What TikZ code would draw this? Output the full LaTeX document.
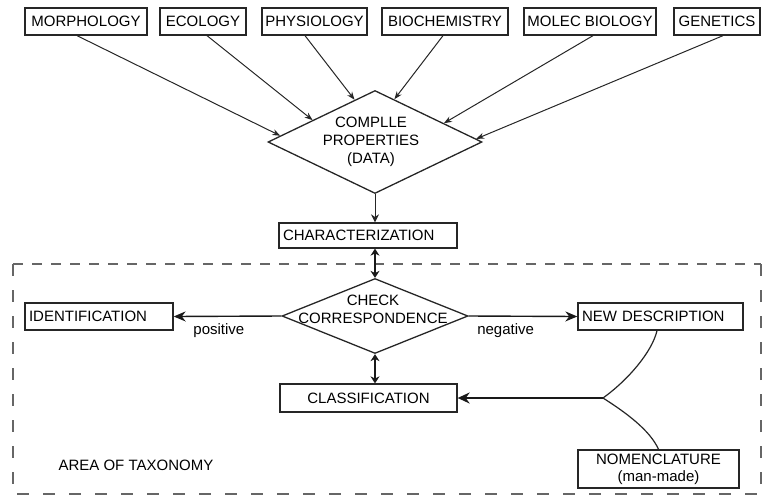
\documentclass[tikz,border=0pt]{standalone}
\usepackage{fontspec}
\setmainfont{Liberation Sans}
\usetikzlibrary{shapes.geometric,arrows.meta,calc}
\begin{document}
\begin{tikzpicture}[x=1pt,y=-1pt,
  txt/.style={font=\fontsize{15}{18}\selectfont},
  box/.style={txt, draw=black!85, line width=1.3pt, fill=white, inner xsep=0pt, inner ysep=0pt, minimum height=27pt},
  lbox/.style={box, inner xsep=4pt, align=left},
  diam/.style={diamond, draw=black!85, line width=1.3pt, inner sep=0pt},
  feed/.style={draw=black!85, line width=1pt, -{Stealth[length=8pt,width=6pt]}},
  dbl/.style={draw=black!90, line width=2pt, {Stealth[length=7pt,width=9pt]}-{Stealth[length=7pt,width=9pt]}},
  side/.style={draw=black!90, line width=1.4pt, -{Stealth[length=12pt,width=10pt]}},
  curve/.style={draw=black!85, line width=1.2pt},
  frame/.style={draw=black!60, line width=2pt}
]
\useasboundingbox (0,0) rectangle (770,498);

% dashed area of taxonomy
\draw[frame, dash pattern=on 10pt off 9pt] (13,264) -- (761,264);
\draw[frame, dash pattern=on 12pt off 14pt] (13,264) -- (13,494) -- (761,494) -- (761,264);

% top boxes
\node[box, minimum width=122pt] (morph) at (86,21.5) {MORPHOLOGY};
\node[box, minimum width=86pt]  (eco)   at (203,21.5) {ECOLOGY};
\node[box, minimum width=105pt] (phys)  at (314.5,21.5) {PHYSIOLOGY};
\node[box, minimum width=126pt] (bio)   at (445,21.5) {BIOCHEMISTRY};
\node[box, minimum width=132pt] (molec) at (590,21.5) {MOLEC BIOLOGY};
\node[box, minimum width=86pt]  (gen)   at (717,21.5) {GENETICS};

% compile diamond
\node[diam, minimum width=214pt, minimum height=103pt] (cp) at (375,142) {};
\node[txt, align=center] (cptext) at (371,142) {COMPLLE\\PROPERTIES\\(DATA)};

\draw[feed] ($(morph.south)+(-9,0)$) -- ($(cp.west)!0.12!(cp.north)$);
\draw[feed] ($(eco.south)+(4,0)$) -- ($(cp.west)!0.42!(cp.north)$);
\draw[feed] ($(phys.south)+(-9.5,0)$) -- ($(cp.west)!0.81!(cp.north)$);
\draw[feed] ($(bio.south)+(-2,0)$) -- ($(cp.north)!0.18!(cp.east)$);
\draw[feed] ($(molec.south)+(3,0)$) -- ($(cp.north)!0.64!(cp.east)$);
\draw[feed] ($(gen.south)+(6,0)$) -- ($(cp.north)!0.94!(cp.east)$);

% characterization
\node[lbox, text width=170pt, minimum height=25pt] (char) at (368,235.5) {CHARACTERIZATION};
\draw[draw=black!85, line width=1pt, -{Stealth[length=8pt,width=8pt]}] (cp.south) -- (cp.south |- char.north);

% check correspondence
\node[diam, minimum width=186pt, minimum height=75pt] (chk) at (375,316) {};
\node[txt, align=center] (chktext) at (373,309) {CHECK\\CORRESPONDENCE};
\draw[dbl] (char.south -| chk.north) -- (chk.north);

% identification / new description
\node[lbox, text width=140pt] (ident) at (99,316.5) {IDENTIFICATION};
\node[lbox, text width=157pt] (newd) at (660.5,316.5) {NEW DESCRIPTION};
\draw[side] (chk.west) -- node[txt, pos=0.58, below=3pt] (lpos) {positive} (ident.east);
\draw[side] (chk.east) -- node[txt, pos=0.34, below=3pt] (lneg) {negative} (newd.west);

% classification
\node[box, minimum width=177pt, minimum height=28pt] (class) at (368.5,398) {CLASSIFICATION};
\draw[dbl] (chk.south) -- (chk.south |- class.north);

% nomenclature
\node[box, minimum width=161pt, minimum height=38pt, align=center, font=\fontsize{15}{17}\selectfont] (nom) at (658.5,469) {NOMENCLATURE\\(man-made)};

% branch
\coordinate (br) at (603,398);
\draw[curve] ($(newd.south)+(-3.5,0)$) .. controls (652,352) and (628,380) .. (br);
\draw[curve] (br) .. controls (625,412) and (650,430) .. (nom.north);
\draw[draw=black!90, line width=2.6pt, -{Stealth[length=12pt,width=11pt]}] (br) -- (class.east);

% area label
\node[txt, anchor=west] (area) at (55,465) {AREA OF TAXONOMY};
\end{tikzpicture}
\end{document}
